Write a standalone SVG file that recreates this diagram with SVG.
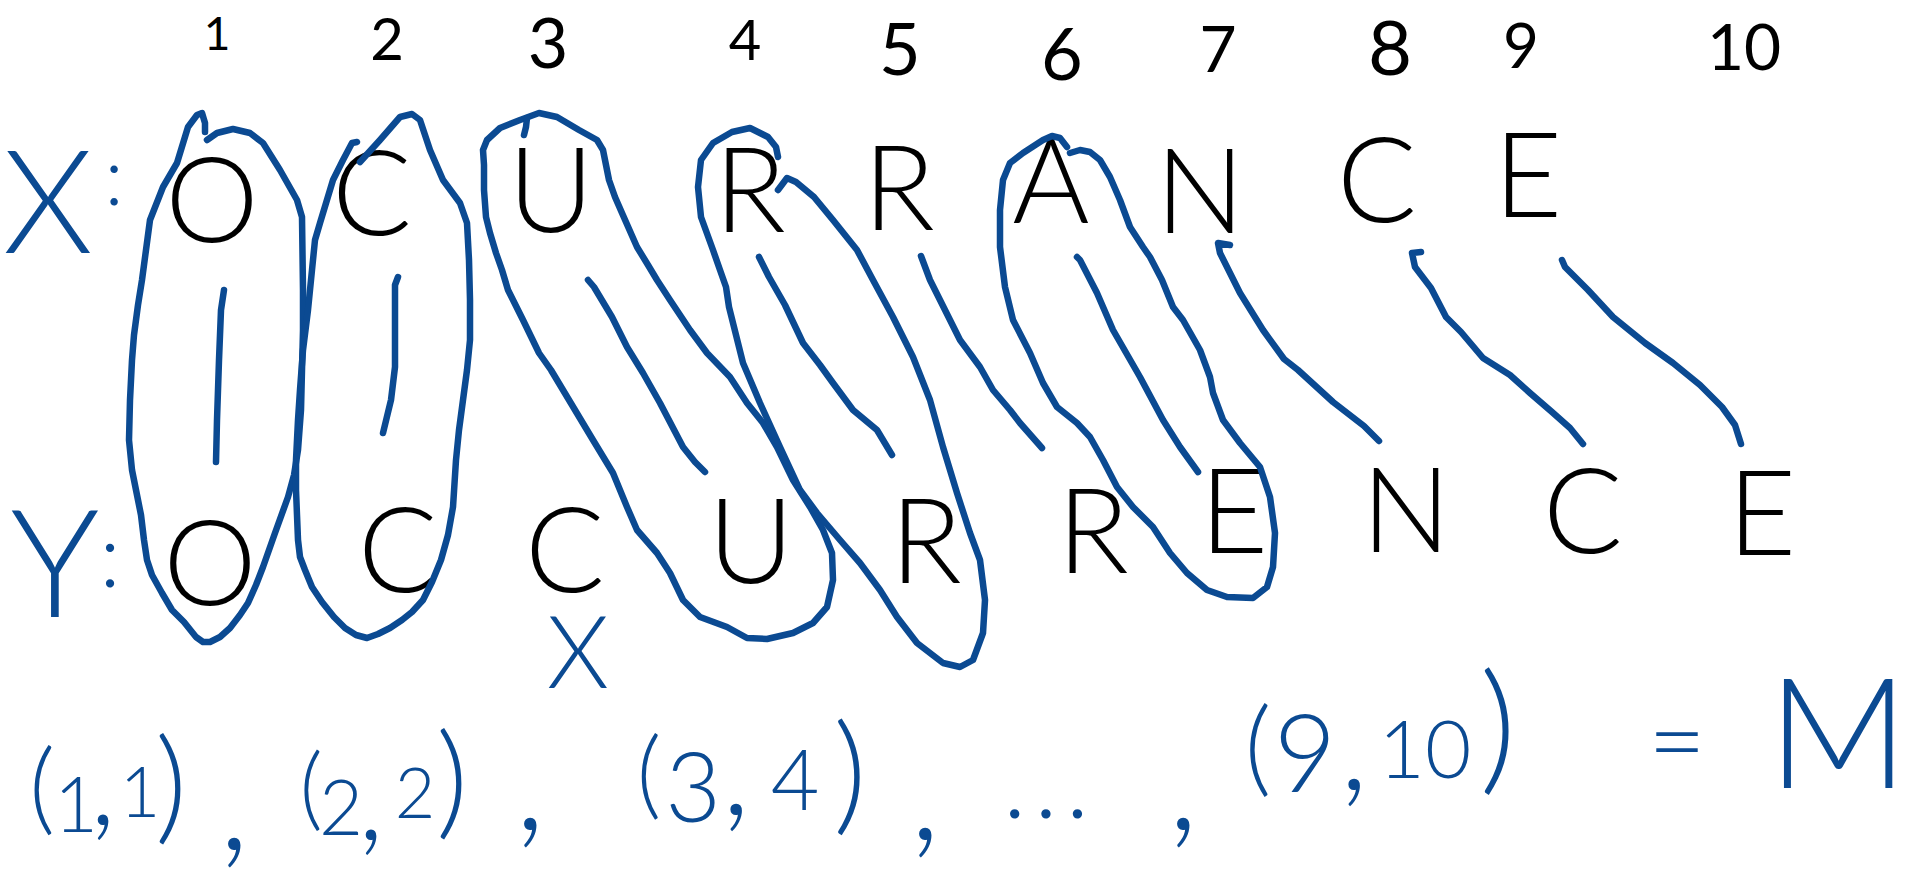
<svg xmlns="http://www.w3.org/2000/svg" width="1909" height="881" viewBox="0 0 1909 881">
<style>
.b{fill:none;stroke:#0b4a92;stroke-width:6.5;stroke-linecap:round;stroke-linejoin:round}
.k{font-family:Lato,"Liberation Sans",Arial,sans-serif;font-weight:300;fill:#000;text-anchor:middle}
.bt{font-family:Lato,"Liberation Sans",Arial,sans-serif;font-weight:300;fill:#0b4a92;text-anchor:middle}
.l{font-size:118px}
.n{font-weight:400}
</style>
<rect width="1909" height="881" fill="#fff"/>
<g id="indices" class="k n">
<text x="217" y="50" font-size="46">1</text>
<text x="387" y="60" font-size="58">2</text>
<text x="548" y="68" font-size="70">3</text>
<text x="745" y="60" font-size="56">4</text>
<text x="900" y="75" font-size="72">5</text>
<text x="1062" y="80" font-size="72">6</text>
<text x="1218" y="72" font-size="64">7</text>
<text x="1390" y="75" font-size="76">8</text>
<text x="1521" y="68" font-size="62">9</text>
<text x="1744" y="70" font-size="64">10</text>
</g>
<g id="label-x"><text class="bt" x="48" y="253" font-size="145">X</text><text class="bt" x="114" y="205" font-size="80">:</text></g>
<g id="label-y"><text class="bt" x="55" y="617" font-size="150">Y</text><text class="bt" x="110" y="587" font-size="88">:</text></g>
<g id="x1" class="k l"><text x="212" y="242">O</text></g>
<g id="x2" class="k l"><text x="372" y="235">C</text></g>
<g id="x3" class="k l"><text x="551" y="232">U</text></g>
<g id="x4" class="k l"><text x="750" y="232">R</text></g>
<g id="x5" class="k l"><text x="899" y="230">R</text></g>
<g id="x6" class="k l"><text x="1051" y="223">A</text></g>
<g id="x7" class="k l"><text x="1200" y="233">N</text></g>
<g id="x8" class="k l"><text x="1377" y="222">C</text></g>
<g id="x9" class="k l"><text x="1528" y="217">E</text></g>
<g id="y1" class="k l"><text x="210" y="605">O</text></g>
<g id="y2" class="k l"><text x="398" y="592">C</text></g>
<g id="y3" class="k l"><text x="565" y="592">C</text></g>
<g id="y4" class="k l"><text x="751" y="583">U</text></g>
<g id="y5" class="k l"><text x="926" y="583">R</text></g>
<g id="y6" class="k l"><text x="1093" y="573">R</text></g>
<g id="y7" class="k l"><text x="1234" y="553">E</text></g>
<g id="y8" class="k l"><text x="1406" y="552">N</text></g>
<g id="y9" class="k l"><text x="1583" y="553">C</text></g>
<g id="y10" class="k l"><text x="1762" y="555">E</text></g>
<g id="skip-mark"><text class="bt" x="578" y="688" font-size="100">X</text></g>
<g id="loops" class="b">
<path d="M205,132 L205,123 L202,113 L197,115 L188,127 L177,163 L163,187 L150,220 L146,250 L142,280 L138,305 L134,335 L132,360 L130,400 L129,440 L132,470 L137,495 L141,515 L144,540 L147,560 L152,575 L162,593 L172,610 L184,622 L196,637 L203,642 L210,642 L220,637 L230,628 L240,615 L248,603 L256,585 L263,567 L275,533 L288,497 L294,475 L298,450 L301,410 L302,370 L303,330 L303,290 L302,217 L297,200 L280,170 L263,143 L250,133 L233,129 L217,133 L207,140"/>
<path d="M360,162 L380,140 L400,117 L412,114 L420,120 L430,150 L443,180 L460,203 L467,223 L469,260 L470,300 L470,340 L467,370 L463,400 L459,430 L456,460 L453,507 L448,535 L441,560 L432,582 L423,600 L412,612 L402,620 L390,628 L378,634 L367,638 L356,635 L345,628 L334,617 L322,602 L312,587 L305,570 L300,557 L298,540 L297,515 L296,490 L296,460 L298,420 L300,390 L303,350 L308,310 L312,270 L315,240 L320,223 L333,180 L343,160 L352,143 L357,142"/>
<path d="M483,150 L487,140 L500,128 L520,120 L539,113 L557,117 L579,130 L597,140 L603,150 L609,180 L615,197 L622,213 L637,247 L648,265 L657,280 L670,300 L690,330 L707,353 L730,377 L747,403 L763,423 L777,447 L793,480 L810,507 L823,530 L832,553 L833,580 L827,607 L813,623 L793,633 L767,639 L747,638 L727,627 L700,617 L683,600 L670,573 L657,553 L637,530 L627,507 L613,473 L593,440 L575,410 L563,390 L551,370 L539,353 L523,320 L508,290 L502,270 L496,253 L490,233 L486,217 L484,190 L484,165 Z"/>
<path d="M527,118 L526,127 L524,135"/>
<path d="M778,157 L776,147 L768,137 L750,128 L732,132 L713,143 L701,160 L698,187 L701,217 L713,250 L720,270 L726,287 L729,307 L733,323 L743,363 L760,403 L780,447 L800,490 L817,513 L840,540 L860,563 L880,590 L897,617 L917,643 L943,663 L960,667 L973,660 L983,633 L985,600 L980,560 L970,533 L957,493 L943,447 L930,400 L913,357 L893,317 L873,280 L857,250 L833,220 L814,197 L796,182 L787,178 L778,190"/>
<path d="M1067,147 L1060,138 L1052,136 L1043,140 L1023,153 L1010,163 L1003,180 L1000,210 L1000,247 L1005,287 L1013,320 L1030,353 L1043,383 L1057,407 L1077,423 L1090,437 L1103,460 L1117,487 L1133,507 L1153,527 L1170,553 L1187,573 L1207,590 L1227,597 L1253,598 L1267,587 L1273,567 L1275,533 L1270,497 L1260,467 L1240,443 L1223,420 L1213,393 L1210,377 L1200,350 L1183,320 L1173,307 L1162,280 L1150,257 L1143,247 L1130,227 L1120,200 L1110,177 L1100,160 L1090,152 L1080,150 L1070,153"/>
</g>
<g id="connectors" class="b">
<path d="M224,290 L221,310 L219,360 L217,420 L216,462"/>
<path d="M398,277 L395,285 L395,300 L395,367 L391,400 L383,433"/>
<path d="M588,280 L594,287 L612,317 L627,347 L643,373 L660,403 L683,447 L695,462 L705,472"/>
<path d="M759,257 L769,277 L785,305 L803,343 L820,365 L833,383 L853,410 L877,430 L892,455"/>
<path d="M921,256 L930,280 L945,310 L960,340 L980,367 L993,390 L1010,410 L1020,423 L1042,448"/>
<path d="M1077,257 L1080,260 L1097,293 L1113,330 L1140,377 L1163,420 L1180,447 L1198,472"/>
<path d="M1230,245 L1218,243 L1220,253 L1240,293 L1263,330 L1284,359 L1298,370 L1333,402 L1364,426 L1379,441"/>
<path d="M1421,252 L1412,253 L1415,267 L1431,288 L1446,317 L1461,332 L1483,358 L1510,375 L1530,393 L1552,412 L1570,428 L1583,444"/>
<path d="M1562,260 L1565,267 L1588,290 L1613,317 L1645,343 L1673,363 L1700,385 L1722,407 L1735,425 L1741,444"/>
</g>
<g id="matching" class="bt">
<text><tspan x="42" y="822" font-size="101">(</tspan><tspan x="76" y="832" font-size="76">1</tspan><tspan x="103" y="825" font-size="120">,</tspan><tspan x="140" y="817" font-size="70">1</tspan><tspan x="171" y="828" font-size="125">)</tspan></text>
<text x="234" y="850" font-size="140">,</text>
<text><tspan x="311" y="819" font-size="90">(</tspan><tspan x="341" y="835" font-size="76">2</tspan><tspan x="371" y="840" font-size="120">,</tspan><tspan x="415" y="818" font-size="70">2</tspan><tspan x="452" y="823" font-size="125">)</tspan></text>
<text x="530" y="830" font-size="140">,</text>
<text><tspan x="649" y="807" font-size="96">(</tspan><tspan x="693" y="822" font-size="96">3</tspan><tspan x="736" y="815" font-size="130">,</tspan><tspan x="795" y="810" font-size="84">4</tspan><tspan x="850" y="818" font-size="130">)</tspan></text>
<text x="925" y="840" font-size="140">,</text>
<text x="1050" y="818" font-size="100" letter-spacing="8">...</text>
<text x="1183" y="830" font-size="140">,</text>
<text><tspan x="1258" y="783" font-size="104">(</tspan><tspan x="1305" y="792" font-size="108">9</tspan><tspan x="1354" y="790" font-size="130">,</tspan><tspan x="1425" y="778" font-size="80">10</tspan><tspan x="1498" y="776" font-size="143">)</tspan></text>
<text x="1677" y="776" font-size="100">=</text>
<text x="1838" y="788" font-size="155">M</text>
</g>
</svg>
